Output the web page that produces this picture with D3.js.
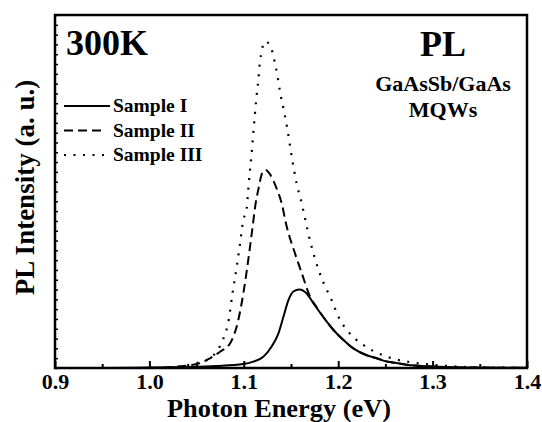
<!DOCTYPE html>
<html>
<head>
<meta charset="utf-8">
<script src="https://cdn.jsdelivr.net/npm/d3@7"></script>
<style>
  body { margin: 0; background: #fff; }
  text { font-family: "Liberation Serif", "Times New Roman", serif; font-weight: bold; fill: #000; }
</style>
</head>
<body>
<div id="chart-area"></div>
<script>
// x axis ticks
var xTicks = [0.9, 1.0, 1.1, 1.2, 1.3, 1.4];
var xMinorTicks = [0.95, 1.05, 1.15, 1.25, 1.35];

// Sample I (solid)
var energyI = [0.95, 1.00, 1.036, 1.071, 1.0995, 1.110, 1.1207, 1.1295, 1.1366, 1.1419, 1.1472, 1.1525, 1.1588,
  1.1666, 1.1737, 1.1842, 1.1948, 1.205, 1.216, 1.2302, 1.2408, 1.2478, 1.262, 1.2725, 1.30, 1.33, 1.40];
var intensityI = [0, 0.05, 0.1, 0.2, 0.4, 0.65, 1.15, 2.2, 3.5, 5.2, 6.9, 7.8, 8.0,
  7.6, 6.6, 5.2, 3.9, 2.9, 2.0, 1.3, 1.0, 0.75, 0.5, 0.33, 0.15, 0.06, 0.02];

// Sample II (dashed)
var energyII = [1.00, 1.02, 1.036, 1.0536, 1.0613, 1.0748, 1.0854, 1.0942, 1.0995, 1.1037, 1.1084, 1.1129, 1.1154,
  1.1196, 1.1233, 1.1275, 1.1348, 1.1401, 1.145, 1.1542, 1.1613, 1.1701, 1.1772, 1.1842, 1.1948, 1.205, 1.216,
  1.2302, 1.2408, 1.2478, 1.262, 1.2725, 1.30, 1.33, 1.40];
var intensityII = [0, 0.08, 0.2, 0.5, 0.85, 1.66, 2.5, 4.9, 7.6, 10.3, 13.7, 17.0, 18.2,
  19.9, 20.2, 19.8, 18.3, 16.8, 14.6, 11.7, 9.7, 7.3, 6.2, 5.2, 3.9, 2.9, 2.0,
  1.3, 1.0, 0.75, 0.5, 0.33, 0.15, 0.06, 0.02];

// Sample III (dotted)
var energyIII = [1.00, 1.02, 1.036, 1.050, 1.061, 1.071, 1.078, 1.084, 1.088, 1.0925, 1.096, 1.0995, 1.103, 1.1048,
  1.1066, 1.1083, 1.1101, 1.1115, 1.1133, 1.1154, 1.1172, 1.1189, 1.1225, 1.1285, 1.1313, 1.1355, 1.1383, 1.1426,
  1.1461, 1.1507, 1.156, 1.1613, 1.1701, 1.1807, 1.1931, 1.2019, 1.209, 1.2178, 1.2266, 1.2365, 1.2461, 1.2556,
  1.2655, 1.2753, 1.2849, 1.2944, 1.31, 1.33, 1.36, 1.40];
var intensityIII = [0, 0.08, 0.2, 0.5, 0.8, 1.66, 2.9, 4.9, 7.6, 10.3, 12.7, 15.1, 16.2, 18.3,
  20.2, 21.9, 24.0, 25.6, 27.5, 29.4, 31.3, 32.3, 33.3, 32.8, 31.8, 29.9, 28.2, 26.2,
  24.4, 21.6, 18.8, 16.8, 13.0, 9.6, 6.9, 4.9, 3.9, 3.0, 2.35, 1.77, 1.36, 1.02,
  0.78, 0.61, 0.48, 0.38, 0.25, 0.12, 0.05, 0.02];

var seriesNames = ["Sample I", "Sample II", "Sample III"];
var seriesDash = ["none", "9,5", "2,7.5"];

var series = [
  { name: seriesNames[0], x: energyI, y: intensityI, dash: seriesDash[0] },
  { name: seriesNames[1], x: energyII, y: intensityII, dash: seriesDash[1] },
  { name: seriesNames[2], x: energyIII, y: intensityIII, dash: seriesDash[2] }
];

var margin = {top: 15, right: 15, bottom: 54, left: 55},
  width = 542 - margin.left - margin.right,
  height = 422 - margin.top - margin.bottom;

var x = d3.scaleLinear().domain([0.9, 1.4]).range([0, width]);
var y = d3.scaleLinear().domain([0, 36]).range([height, 0]);

var svg = d3.select("#chart-area").append("svg")
  .attr("width", 542)
  .attr("height", 422)
  .append("g")
  .attr("transform", "translate(" + margin.left + "," + margin.top + ")");

// curves
var line = d3.line()
  .x(function (d) { return x(d[0]); })
  .y(function (d) { return y(d[1]); })
  .curve(d3.curveMonotoneX);

svg.selectAll(".curve")
  .data(series)
  .enter().append("path")
  .attr("class", "curve")
  .attr("fill", "none")
  .attr("stroke", "#000")
  .attr("stroke-width", function (d) { return d.dash === "2,7.5" ? 2.2 : 2; })
  .attr("stroke-dasharray", function (d) { return d.dash; })
  .attr("d", function (d) { return line(d.x.map(function (v, i) { return [v, d.y[i]]; })); });

// bottom axis, ticks pointing inward
var xMajor = svg.append("g")
  .attr("transform", "translate(0," + height + ")")
  .call(d3.axisBottom(x).tickValues(xTicks).tickFormat(d3.format(".1f")).tickSizeInner(-7).tickSizeOuter(0).tickPadding(5.5));
xMajor.select(".domain").remove();
xMajor.selectAll("line").attr("stroke-width", 2);
xMajor.selectAll("text").style("font-size", "22px");

var xMinor = svg.append("g")
  .attr("transform", "translate(0," + height + ")")
  .call(d3.axisBottom(x).tickValues(xMinorTicks).tickSizeInner(-4).tickSizeOuter(0).tickFormat(""));
xMinor.select(".domain").remove();
xMinor.selectAll("line").attr("stroke-width", 2);

// left axis, small inward ticks, no labels
var yAx = svg.append("g")
  .call(d3.axisLeft(y).tickValues(d3.range(0, 37)).tickSizeInner(-3).tickSizeOuter(0).tickFormat(""));
yAx.select(".domain").remove();
yAx.selectAll("line").attr("stroke-width", 1.5);

// frame
svg.append("rect")
  .attr("width", width)
  .attr("height", height)
  .attr("fill", "none")
  .attr("stroke", "#000")
  .attr("stroke-width", 2.5);

// axis titles
svg.append("text")
  .attr("x", width / 2 - 12)
  .attr("y", height + 48.5)
  .attr("text-anchor", "middle")
  .attr("textLength", 224)
  .attr("lengthAdjust", "spacingAndGlyphs")
  .style("font-size", "25px")
  .text("Photon Energy (eV)");

svg.append("text")
  .attr("transform", "rotate(-90)")
  .attr("x", -height / 2 + 4)
  .attr("y", -21)
  .attr("text-anchor", "middle")
  .style("font-size", "27px")
  .text("PL Intensity (a. u.)");

// annotations
svg.append("text").attr("x", 11).attr("y", 40).style("font-size", "36px").text("300K");
svg.append("text").attr("x", 388).attr("y", 41).attr("text-anchor", "middle").style("font-size", "36px").text("PL");
svg.append("text").attr("x", 388).attr("y", 76).attr("text-anchor", "middle").style("font-size", "22px").text("GaAsSb/GaAs");
svg.append("text").attr("x", 388).attr("y", 102).attr("text-anchor", "middle").style("font-size", "22px").text("MQWs");

// legend
var legend = svg.selectAll(".legend")
  .data(series)
  .enter().append("g")
  .attr("class", "legend")
  .attr("transform", function (d, i) { return "translate(9," + (91 + i * 24.5) + ")"; });

legend.append("line")
  .attr("x1", 0)
  .attr("x2", function (d, i) { return [46, 37, 40][i]; })
  .attr("stroke", "#000")
  .attr("stroke-width", function (d) { return d.dash === "2,7.5" ? 2.2 : 2; })
  .attr("stroke-dasharray", function (d) { return d.dash; });

legend.append("text")
  .attr("x", 49)
  .attr("y", 6)
  .style("font-size", "19.5px")
  .text(function (d) { return d.name; });
</script>
</body>
</html>
